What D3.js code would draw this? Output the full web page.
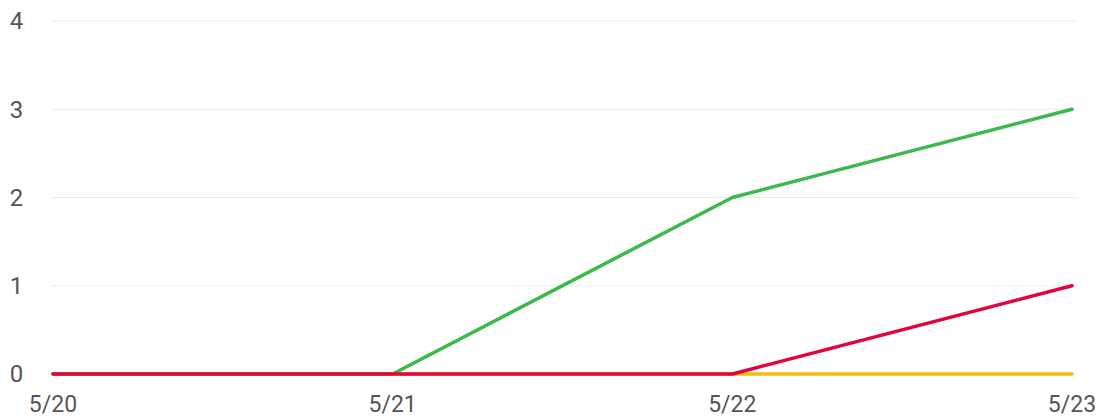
<!DOCTYPE html>
<html lang="en">
<head>
<meta charset="utf-8">
<title>Daily counts</title>
<script src="https://cdn.jsdelivr.net/npm/d3@7"></script>
<style>
  body { margin: 0; background: #fff; }
  text { font-family: Roboto, "Noto Sans", sans-serif; fill: #555; }
</style>
</head>
<body>
<script>
// data
var dates = ["5/20", "5/21", "5/22", "5/23"];
var yTicks = [0, 1, 2, 3, 4];
var yellowValues = [0, 0, 0, 0];
var greenValues = [0, 0, 2, 3];
var redValues = [0, 0, 0, 1];

var series = [
  { name: "yellow", color: "#f2bd12", values: yellowValues },
  { name: "green", color: "#3cb94c", values: greenValues },
  { name: "red", color: "#e2033f", values: redValues }
];

var w = 1102, h = 420;
var svg = d3.select("body").append("svg")
  .attr("width", w)
  .attr("height", h);

var x = d3.scalePoint().domain(dates).range([53, 1072]);
var y = d3.scaleLinear().domain([0, 4]).range([374, 21]);

// gridlines
svg.selectAll("line.grid")
  .data(yTicks)
  .enter()
  .append("line")
  .attr("class", "grid")
  .attr("x1", 52)
  .attr("x2", 1078)
  .attr("y1", function(d) { return y(d); })
  .attr("y2", function(d) { return y(d); })
  .attr("stroke", "#ebebeb")
  .attr("stroke-width", 1);

// y labels
svg.selectAll("text.ylab")
  .data(yTicks)
  .enter()
  .append("text")
  .attr("class", "ylab")
  .attr("x", 16.5)
  .attr("y", function(d) { return y(d); })
  .attr("dy", "0.35em")
  .attr("text-anchor", "middle")
  .attr("font-size", "24px")
  .text(function(d) { return d; });

// x labels
svg.selectAll("text.xlab")
  .data(dates)
  .enter()
  .append("text")
  .attr("class", "xlab")
  .attr("x", function(d) { return x(d); })
  .attr("y", 412)
  .attr("text-anchor", "middle")
  .attr("font-size", "23px")
  .text(function(d) { return d; });

var line = d3.line()
  .x(function(d, i) { return x(dates[i]); })
  .y(function(d) { return y(d); });

svg.selectAll("path.series")
  .data(series)
  .enter()
  .append("path")
  .attr("class", "series")
  .attr("fill", "none")
  .attr("stroke", function(d) { return d.color; })
  .attr("stroke-width", 3.5)
  .attr("stroke-linecap", "round")
  .attr("stroke-linejoin", "round")
  .attr("d", function(d) { return line(d.values); });
</script>
</body>
</html>
